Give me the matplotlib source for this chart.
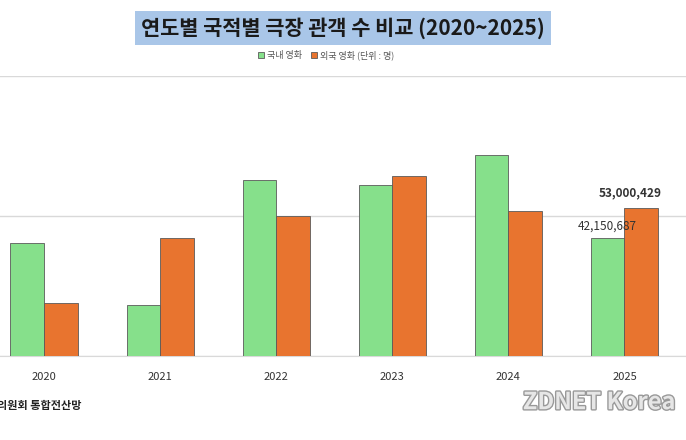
import matplotlib.pyplot as plt
import matplotlib.patheffects as pe
import numpy as np

plt.rcParams['font.family'] = ['Noto Sans CJK KR', 'DejaVu Sans']

years = ['2020', '2021', '2022', '2023', '2024', '2025']
domestic = [40300000, 18200000, 62800000, 61000000, 71800000, 42150687]
foreign = [19000000, 42000000, 50000000, 64200000, 51800000, 53000429]

fig = plt.figure(figsize=(6.86, 4.40), dpi=100)
ax = fig.add_axes([0, 0.191, 1, 0.636])

x = np.arange(len(years))
w = 0.29
ax.bar(x - w / 2, domestic, w, color='#86e08b', edgecolor='#5a5a5a', linewidth=0.6, zorder=3, label='국내 영화')
ax.bar(x + w / 2, foreign, w, color='#e8742f', edgecolor='#5a5a5a', linewidth=0.6, zorder=3, label='외국 영화 (단위 : 명)')

ax.set_xlim(-0.38, 5.53)
ax.set_ylim(0, 100000000)
ax.set_yticks([0, 50000000, 100000000])
ax.grid(axis='y', color='#d9d9d9', linewidth=1, zorder=0)
ax.tick_params(left=False, labelleft=False, bottom=False)
for s in ['left', 'right', 'top']:
    ax.spines[s].set_visible(False)
ax.spines['bottom'].set_color('#d9d9d9')
ax.set_xticks(x)
ax.set_xticklabels(years, fontsize=8, color='#333333')
ax.tick_params(axis='x', pad=8)

ax.annotate(f'{domestic[5]:,}', (x[5] - w / 2, domestic[5]), xytext=(0, 4), textcoords='offset points',
            ha='center', va='bottom', fontsize=8.5, color='#333333')
ax.annotate(f'{foreign[5]:,}', (x[5] + w / 2, foreign[5]), xytext=(-8, 6), textcoords='offset points',
            ha='center', va='bottom', fontsize=8.5, fontweight='bold', color='#333333')

fig.text(0.5, 0.937, '연도별 국적별 극장 관객 수 비교 (2020~2025)', ha='center', va='center',
         fontsize=15, fontweight='bold', color='#1a1a1a',
         bbox=dict(boxstyle='square,pad=0.3', facecolor='#a9c6e8', edgecolor='none'))
fig.legend(loc='center', bbox_to_anchor=(0.475, 0.875), ncol=2, frameon=False, fontsize=6.5,
           handlelength=0.7, handleheight=0.7, handletextpad=0.3, columnspacing=1.0, labelcolor='#555555')

fig.text(-0.005, 0.07, '의원회 통합전산망', fontsize=8, fontweight='bold', color='#222222')
fig.text(0.985, 0.07, 'ZDNET Korea', ha='right', fontsize=17, fontweight='bold', color='#e6e6e6',
         path_effects=[pe.withStroke(linewidth=2, foreground='#999999')])

fig.savefig('out.png', dpi=100)
